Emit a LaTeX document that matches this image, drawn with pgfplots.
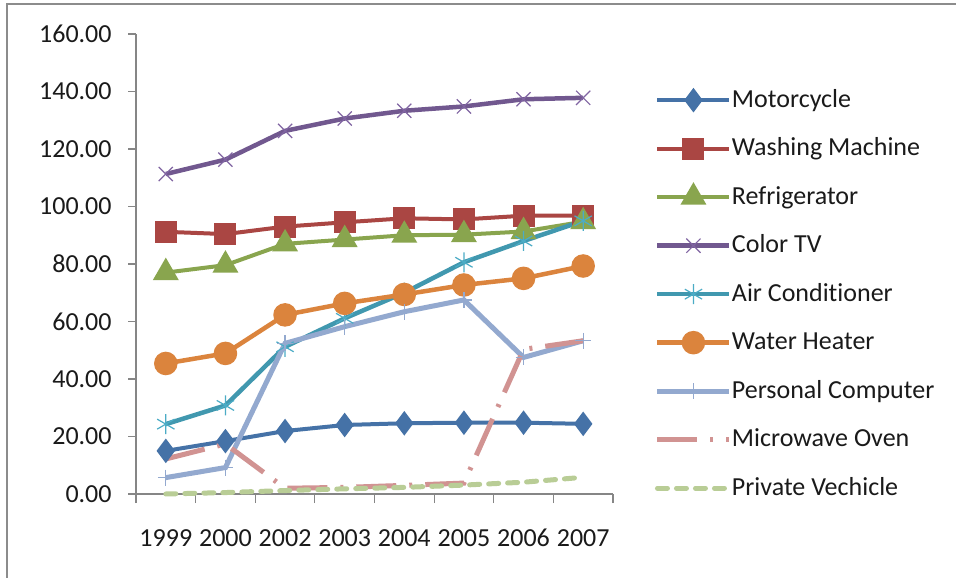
\documentclass[border=0pt]{standalone}
\usepackage{fontspec}
\setmainfont{Carlito}[Ligatures=NoCommon]
\usepackage{pgfplots}
\pgfplotsset{compat=1.18}
\definecolor{c1}{HTML}{4572A7}
\definecolor{c2}{HTML}{AA4643}
\definecolor{c3}{HTML}{89A54E}
\definecolor{c4}{HTML}{71588F}
\definecolor{c5}{HTML}{4198AF}
\definecolor{c6}{HTML}{DB843D}
\definecolor{c7}{HTML}{93A9CF}
\definecolor{c8}{HTML}{D19392}
\definecolor{c9}{HTML}{B9CD96}
\definecolor{m4}{HTML}{8064A2}
\definecolor{m5}{HTML}{4BACC6}
\definecolor{axgray}{HTML}{868686}
\definecolor{framegray}{HTML}{8C8C8C}
\definecolor{txt}{HTML}{1A1A1A}
\begin{document}
\fontsize{13pt}{15.6pt}\selectfont
\begin{tikzpicture}
\useasboundingbox (0,0) rectangle (478pt,288.5pt);
\fill[white] (0,0) rectangle (478pt,288.5pt);
\draw[line width=1pt, color=framegray] (3.5pt,-1pt) -- (3.5pt,286.25pt) -- (479pt,286.25pt);
\begin{axis}[
  at={(68pt,41.5pt)}, anchor=south west,
  scale only axis, width=238.5pt, height=230pt,
  xmin=-0.5, xmax=7.5, ymin=0, ymax=160,
  axis x line=bottom, axis y line=left,
  axis line style={-, color=axgray, line width=0.6pt},
  tick align=outside,
  xtick={0,...,7},
  xticklabels={1999,2000,2002,2003,2004,2005,2006,2007},
  major x tick style={draw=none},
  minor xtick={-0.5,0.5,...,7.5},
  minor x tick style={color=axgray, line width=0.6pt},
  minor tick length=4.5pt,
  ytick={0,20,...,160},
  major y tick style={color=axgray, line width=0.6pt},
  major tick length=4pt,
  /pgf/number format/.cd, fixed, fixed zerofill, precision=2, assume math mode=true, /pgfplots/.cd,
  tick label style={font=\fontsize{13pt}{15.6pt}\selectfont, text=txt},
  yticklabel style={anchor=east, inner sep=0pt, xshift=-8pt},
  xticklabel style={anchor=base, inner sep=0pt, yshift=-22pt},
  legend image code/.code={\draw[mark repeat=2,mark phase=2,#1] plot coordinates {(0pt,0pt) (18pt,0pt) (36pt,0pt)};},
  legend style={at={(1.088,0.8866)}, anchor=north west, draw=none, fill=none,
    inner sep=0pt, outer sep=0pt, row sep=10.25pt,
    font=\fontsize{13pt}{15.6pt}\selectfont, text=txt,
    nodes={inner sep=0pt, text height=10.5pt, text depth=3.5pt},
    /tikz/column 2/.style={column sep=3pt}},
  legend cell align=left,
  clip=false,
]
\addplot[c1, line width=2pt, mark=diamond*, mark size=4.5pt, mark options={solid, fill=c1}]
 coordinates {(0,15.0) (1,18.4) (2,21.9) (3,24.0) (4,24.6) (5,24.8) (6,24.8) (7,24.4)};
\addlegendentry{Motorcycle}
\addplot[c2, line width=2pt, mark=square*, mark size=4.5pt, mark options={solid, fill=c2}]
 coordinates {(0,91.2) (1,90.4) (2,93.0) (3,94.5) (4,95.9) (5,95.5) (6,96.8) (7,96.8)};
\addlegendentry{Washing Machine}
\addplot[c3, line width=2pt, mark=triangle*, mark size=5.5pt, mark options={solid, fill=c3}]
 coordinates {(0,77.0) (1,79.6) (2,87.0) (3,88.5) (4,90.0) (5,90.2) (6,91.3) (7,94.7)};
\addlegendentry{Refrigerator}
\addplot[c4, line width=2.25pt, mark=x, mark size=5pt, mark options={solid, m4, line width=0.6pt}]
 coordinates {(0,111.3) (1,116.3) (2,126.3) (3,130.6) (4,133.3) (5,134.8) (6,137.3) (7,137.8)};
\addlegendentry{Color TV}
\addplot[c5, line width=2.25pt, mark=asterisk, mark size=5pt, mark options={solid, m5, line width=0.6pt}]
 coordinates {(0,24.3) (1,30.8) (2,51.2) (3,61.1) (4,70.0) (5,80.6) (6,88.0) (7,95.0)};
\addlegendentry{Air Conditioner}
\addplot[c6, line width=2.25pt, mark=*, mark size=4.75pt, mark options={solid, fill=c6}]
 coordinates {(0,45.4) (1,48.9) (2,62.3) (3,66.3) (4,69.4) (5,72.7) (6,75.0) (7,79.3)};
\addlegendentry{Water Heater}
\addplot[c7, line width=2.5pt, mark=+, mark size=4pt, mark options={solid, c7, line width=0.6pt}]
 coordinates {(0,5.7) (1,9.2) (2,52.4) (3,58.2) (4,63.4) (5,67.5) (6,47.5) (7,53.3)};
\addlegendentry{Personal Computer}
\addplot[c8, line width=2.5pt, dash pattern=on 20pt off 6.5pt on 1.5pt off 6.5pt]
 coordinates {(0,12.2) (1,17.4) (2,2.0) (3,2.3) (4,3.0) (5,3.8) (6,50.3) (7,53.3)};
\addlegendentry{Microwave Oven}
\addplot[c9, line width=2.5pt, line cap=round, dash pattern=on 5pt off 4.5pt]
 coordinates {(0,0.0) (1,0.5) (2,1.2) (3,1.8) (4,2.3) (5,3.1) (6,4.1) (7,5.8)};
\addlegendentry{Private Vechicle}
\end{axis}
\end{tikzpicture}
\end{document}
